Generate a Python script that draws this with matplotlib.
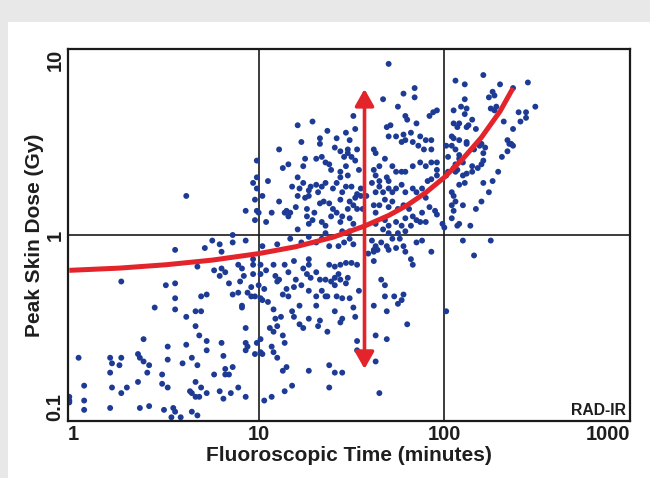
import matplotlib.pyplot as plt
import matplotlib.patches as mpatches
import numpy as np

plt.rcParams['font.family'] = ['Liberation Sans', 'DejaVu Sans']

# all values are log10 (time in minutes, dose in Gy)
# points with time < 10 min
pts_under_10 = [
    (0.61, 0.21), (0.97, 0.28), (0.93, 0.13),
    (0.86, 0.00), (0.75, -0.03), (0.79, -0.05), (0.86, -0.04), (0.93, -0.03), (0.55, -0.08), (0.71, -0.07), (0.80, -0.09),
    (0.67, -0.17), (0.76, -0.19), (0.80, -0.18), (0.82, -0.20), (0.79, -0.22), (0.89, -0.16), (0.91, -0.18), (0.97, -0.13),
    (0.26, -0.25), (0.50, -0.27), (0.55, -0.26), (0.55, -0.34), (0.55, -0.40), (0.44, -0.39), (0.61, -0.44), (0.66, -0.41),
    (0.69, -0.41), (0.69, -0.33), (0.72, -0.32),
    (0.84, -0.26), (0.90, -0.25), (0.92, -0.22), (0.97, -0.21), (0.89, -0.31), (0.86, -0.32), (0.94, -0.31), (0.96, -0.28),
    (0.96, -0.33), (0.91, -0.39), (0.91, -0.38),
    (0.66, -0.49), (0.68, -0.54), (0.72, -0.57), (0.72, -0.62), (0.80, -0.58), (0.81, -0.65), (0.93, -0.50), (0.93, -0.58),
    (0.94, -0.60), (0.93, -0.62), (0.98, -0.64),
    (0.51, -0.60), (0.38, -0.56), (0.61, -0.59), (0.51, -0.67), (0.64, -0.66), (0.67, -0.70), (0.59, -0.69), (0.76, -0.75),
    (0.82, -0.72), (0.82, -0.75), (0.84, -0.75), (0.86, -0.71), (0.89, -0.82), (0.93, -0.87),
    (0.03, -0.66), (0.20, -0.66), (0.21, -0.69), (0.25, -0.70), (0.26, -0.66), (0.35, -0.64), (0.36, -0.66), (0.38, -0.68),
    (0.41, -0.70), (0.40, -0.74), (0.20, -0.74), (0.35, -0.79), (0.29, -0.82), (0.26, -0.85), (0.21, -0.82), (0.06, -0.81),
    (0.48, -0.75), (0.48, -0.80), (0.51, -0.82), (0.66, -0.79), (0.69, -0.82), (0.63, -0.84), (0.64, -0.85), (0.66, -0.87),
    (0.68, -0.87), (0.72, -0.85), (0.79, -0.84), (0.81, -0.88), (0.85, -0.85),
    (0.06, -0.89), (0.06, -0.94), (0.20, -0.93), (0.36, -0.93), (0.41, -0.92), (0.49, -0.94), (0.54, -0.93), (0.55, -0.95),
    (0.64, -0.95), (0.67, -0.97), (0.53, -0.98), (0.58, -0.98),
    (-0.02, -0.87), (-0.02, -0.89), (-0.02, -0.90),
]

# 10-100 min, dose above 1 Gy
pts_mid_high = [
    (1.70, 0.92), (1.67, 0.73), (1.78, 0.76), (1.84, 0.79), (1.84, 0.74), (1.75, 0.69), (1.94, 0.66), (1.92, 0.64), (1.96, 0.67),
    (1.51, 0.64), (1.79, 0.64), (1.80, 0.62), (1.85, 0.60), (1.69, 0.58), (1.71, 0.59), (1.70, 0.53), (1.74, 0.53), (1.78, 0.54),
    (1.82, 0.55), (1.79, 0.51), (1.87, 0.53), (1.83, 0.50), (1.90, 0.51), (1.93, 0.51), (1.86, 0.48), (1.89, 0.46), (1.93, 0.46),
    (1.77, 0.50),
    (1.21, 0.59), (1.29, 0.61), (1.37, 0.56), (1.33, 0.52), (1.33, 0.49), (1.42, 0.52), (1.47, 0.55), (1.52, 0.57), (1.49, 0.51),
    (1.41, 0.47), (1.44, 0.45), (1.48, 0.46), (1.50, 0.42), (1.48, 0.44), (1.53, 0.46),
    (1.11, 0.46), (1.23, 0.50), (1.16, 0.38), (1.13, 0.36), (1.24, 0.37), (1.25, 0.41), (1.31, 0.41), (1.34, 0.42), (1.36, 0.39),
    (1.38, 0.38), (1.39, 0.35), (1.44, 0.34), (1.47, 0.37), (1.46, 0.42), (1.52, 0.40), (1.54, 0.35), (1.62, 0.46), (1.63, 0.44),
    (1.62, 0.35), (1.63, 0.32), (1.65, 0.37), (1.68, 0.41), (1.72, 0.37), (1.74, 0.34), (1.69, 0.31), (1.65, 0.29), (1.61, 0.28),
    (1.70, 0.29), (1.77, 0.34), (1.79, 0.34), (1.83, 0.37), (1.87, 0.39), (1.90, 0.37), (1.93, 0.39), (1.96, 0.39), (1.96, 0.35),
    (1.21, 0.31), (1.18, 0.26), (1.22, 0.25), (1.24, 0.28), (1.27, 0.24), (1.28, 0.26), (1.31, 0.27), (1.27, 0.21), (1.25, 0.20),
    (1.21, 0.21), (1.32, 0.23), (1.34, 0.26), (1.36, 0.28), (1.42, 0.28), (1.44, 0.31), (1.40, 0.25), (1.47, 0.26), (1.48, 0.32),
    (1.50, 0.26), (1.45, 0.23), (1.44, 0.19), (1.52, 0.20), (1.49, 0.18), (1.53, 0.22), (1.55, 0.25), (1.55, 0.21), (1.58, 0.21),
    (1.63, 0.23), (1.65, 0.26), (1.67, 0.23), (1.70, 0.25), (1.68, 0.19), (1.72, 0.23), (1.74, 0.25), (1.77, 0.27), (1.79, 0.23),
    (1.83, 0.25), (1.85, 0.23), (1.88, 0.25), (1.91, 0.29), (1.93, 0.30), (1.96, 0.32), (1.90, 0.20),
    (1.11, 0.18), (1.15, 0.13), (1.17, 0.12), (1.16, 0.10), (1.14, 0.12), (1.20, 0.15), (1.26, 0.14), (1.26, 0.10), (1.30, 0.12),
    (1.33, 0.17), (1.35, 0.18), (1.38, 0.17), (1.40, 0.14), (1.42, 0.12), (1.39, 0.10), (1.29, 0.08), (1.27, 0.06), (1.34, 0.07),
    (1.36, 0.05), (1.44, 0.07), (1.45, 0.10), (1.48, 0.14), (1.51, 0.16), (1.53, 0.14), (1.49, 0.09), (1.51, 0.06), (1.56, 0.14),
    (1.62, 0.16), (1.63, 0.12), (1.65, 0.16), (1.70, 0.15), (1.72, 0.18), (1.75, 0.14), (1.78, 0.16), (1.81, 0.14), (1.83, 0.10),
    (1.85, 0.08), (1.88, 0.12), (1.92, 0.15), (1.95, 0.13), (1.79, 0.09), (1.74, 0.07), (1.70, 0.05), (1.68, 0.08), (1.77, 0.05),
    (1.82, 0.05), (1.87, 0.07), (1.90, 0.07), (1.67, 0.03), (1.70, 0.01), (1.75, 0.01), (1.79, 0.02), (1.04, 0.07), (1.07, 0.12),
    (1.21, 0.03), (1.36, 0.01), (1.45, 0.02), (1.49, 0.02), (1.63, 0.06), (1.96, 0.11), (1.99, 0.06),
    (0.99, 0.40), (0.99, 0.31), (0.99, 0.25), (0.98, 0.19), (0.99, 0.13), (0.98, 0.08), (1.02, 0.21), (1.05, 0.29), (1.00, 0.12),
]

# 10-100 min, dose below 1 Gy
pts_mid_low = [
    (1.02, -0.06), (1.10, -0.05), (1.17, -0.02), (1.23, -0.04), (1.27, -0.01), (1.31, -0.04), (1.34, -0.02), (1.38, -0.06),
    (1.43, -0.06), (1.46, -0.04), (1.49, -0.02), (1.51, -0.05), (1.61, -0.03), (1.63, -0.06), (1.66, -0.04), (1.62, -0.09),
    (1.64, -0.08), (1.69, -0.06), (1.70, -0.08), (1.74, -0.07), (1.78, -0.06), (1.79, -0.09), (1.82, -0.13), (1.85, -0.04),
    (1.88, -0.03), (1.93, -0.09), (1.72, -0.02), (1.76, -0.02), (1.62, -0.08), (1.59, -0.10),
    (0.97, -0.16), (1.01, -0.16), (1.08, -0.16), (1.14, -0.16), (1.19, -0.14), (1.27, -0.13), (1.27, -0.16), (1.24, -0.18),
    (1.26, -0.21), (1.28, -0.23), (1.31, -0.20), (1.33, -0.24), (1.38, -0.16), (1.41, -0.17), (1.44, -0.16), (1.47, -0.15),
    (1.50, -0.15), (1.53, -0.16), (1.41, -0.23), (1.43, -0.21), (1.44, -0.24), (1.48, -0.23), (1.47, -0.26), (1.39, -0.25),
    (1.36, -0.24), (1.41, -0.27), (1.20, -0.24), (1.16, -0.20), (1.11, -0.24), (1.09, -0.22), (1.04, -0.19), (1.01, -0.21),
    (1.62, -0.14), (1.83, -0.16), (1.54, -0.30), (1.66, -0.24), (1.68, -0.27), (1.34, -0.30), (1.36, -0.33), (1.31, -0.33),
    (1.27, -0.30), (1.23, -0.27), (1.19, -0.28), (1.15, -0.29), (1.13, -0.32), (1.16, -0.33), (1.10, -0.25), (1.03, -0.29),
    (1.00, -0.27), (1.01, -0.34), (1.02, -0.35), (1.05, -0.36), (1.08, -0.40), (0.98, -0.33),
    (1.37, -0.33), (1.42, -0.33), (1.45, -0.34), (1.49, -0.34), (1.51, -0.39), (1.41, -0.41), (1.31, -0.38), (1.22, -0.38),
    (1.18, -0.41), (1.12, -0.44), (1.09, -0.45), (1.06, -0.50), (1.10, -0.49), (1.08, -0.52), (1.19, -0.44), (1.27, -0.45),
    (1.33, -0.46), (1.45, -0.45), (1.44, -0.47), (1.52, -0.44), (1.62, -0.38), (1.68, -0.33), (1.69, -0.41), (1.73, -0.33),
    (1.75, -0.37), (1.77, -0.35), (1.78, -0.32), (1.80, -0.48),
    (1.13, -0.54), (1.14, -0.58), (1.07, -0.60), (1.01, -0.56), (0.99, -0.58), (1.01, -0.63), (1.02, -0.64), (1.08, -0.63),
    (1.10, -0.66), (1.22, -0.48), (1.24, -0.50), (1.32, -0.49), (1.37, -0.52), (1.53, -0.57), (1.53, -0.62), (1.63, -0.54),
    (1.69, -0.56), (1.63, -0.68), (1.13, -0.73), (1.15, -0.71), (1.18, -0.81), (1.14, -0.84), (1.03, -0.89), (1.07, -0.87),
    (1.27, -0.73), (1.38, -0.70), (1.41, -0.74), (1.45, -0.74), (1.38, -0.82), (1.65, -0.85),
]

# over 100 min
pts_over_100 = [
    (2.21, 0.86), (2.06, 0.83), (2.11, 0.81), (2.30, 0.81), (2.45, 0.82), (2.37, 0.79), (2.26, 0.77), (2.27, 0.75), (2.24, 0.74),
    (2.28, 0.69), (2.25, 0.68), (2.27, 0.67), (2.11, 0.73), (2.09, 0.69), (2.12, 0.68), (2.05, 0.67), (2.11, 0.65), (2.49, 0.69),
    (2.40, 0.66), (2.44, 0.66), (2.41, 0.61), (2.44, 0.63), (2.32, 0.61), (2.37, 0.57),
    (2.05, 0.60), (2.08, 0.60), (2.15, 0.62), (2.13, 0.59), (2.17, 0.57), (2.12, 0.58), (2.07, 0.58), (2.04, 0.53), (2.05, 0.52),
    (2.04, 0.48), (2.08, 0.51), (2.12, 0.50), (2.12, 0.49), (2.01, 0.48), (2.06, 0.46), (2.02, 0.42), (2.19, 0.48), (2.20, 0.49),
    (2.22, 0.47), (2.21, 0.44), (2.16, 0.46), (2.34, 0.51), (2.35, 0.49), (2.36, 0.49), (2.37, 0.48), (2.34, 0.45), (2.31, 0.42),
    (2.29, 0.34),
    (2.08, 0.43), (2.08, 0.41), (2.10, 0.39), (2.06, 0.38), (2.05, 0.36), (2.15, 0.37), (2.18, 0.36), (2.20, 0.38), (2.21, 0.40),
    (2.15, 0.34), (2.12, 0.33), (2.10, 0.32), (2.06, 0.34), (2.02, 0.34), (2.07, 0.35), (2.01, 0.32), (2.08, 0.27), (2.11, 0.28),
    (2.21, 0.28), (2.26, 0.29), (2.24, 0.23), (2.04, 0.23), (2.05, 0.21), (2.06, 0.18), (2.04, 0.16), (2.10, 0.16), (2.20, 0.18),
    (2.17, 0.14), (2.05, 0.13), (2.04, 0.09), (2.08, 0.06), (2.07, 0.05), (2.14, 0.05), (2.00, 0.04),
    (2.10, -0.03), (2.25, -0.03), (2.16, -0.11), (2.01, -0.41),
]

# fitted trend line (log10 time, log10 dose)
trend_log_time = [-0.02, 0.25, 0.50, 0.75, 1.00, 1.20, 1.40, 1.57, 1.70, 1.80, 1.90, 2.00, 2.10, 2.20, 2.30, 2.37]
trend_log_dose = [-0.19, -0.178, -0.16, -0.135, -0.10, -0.063, -0.012, 0.048, 0.105, 0.16, 0.228, 0.31, 0.41, 0.525,
                  0.665, 0.79]

# spread arrow at ~37 min
arrow_log_time = 1.57
arrow_log_dose = (-0.72, 0.785)

x_ticks = [1, 10, 100, 1000]
y_ticks = [0.1, 1, 10]

blue = '#1d3b94'
red = '#e3242b'
text_col = '#1e1e1e'

pts = np.array(pts_under_10 + pts_mid_high + pts_mid_low + pts_over_100)
time = 10 ** pts[:, 0]
dose = 10 ** pts[:, 1]

fig = plt.figure(figsize=(6.5, 4.78), dpi=100, facecolor='#e8e8e8')
# white panel behind the chart (gray strip on top and left)
fig.patches.append(mpatches.Rectangle((8 / 650, 0), 1, 1 - 22 / 478, transform=fig.transFigure,
                                      facecolor='white', edgecolor='none', zorder=-10))
ax = fig.add_axes([68 / 650, 57 / 478, 562 / 650, 372 / 478])
ax.set_facecolor('white')

ax.set_xscale('log')
ax.set_yscale('log')
ax.set_xlim(10 ** -0.027, 1000)
ax.set_ylim(0.1, 10)

for v in [10, 100]:
    ax.axvline(v, color='#1a1a1a', lw=1.2, zorder=1)
ax.axhline(1, color='#1a1a1a', lw=1.2, zorder=1)

ax.scatter(time, dose, s=18, color=blue, edgecolors='none', zorder=2)

ax.plot(10 ** np.array(trend_log_time), 10 ** np.array(trend_log_dose), color=red, lw=3.6,
        solid_capstyle='butt', solid_joinstyle='round', zorder=3)

ax.annotate('', xy=(10 ** arrow_log_time, 10 ** arrow_log_dose[1]),
            xytext=(10 ** arrow_log_time, 10 ** arrow_log_dose[0]),
            arrowprops=dict(arrowstyle='<|-|>,head_length=0.85,head_width=0.48', color=red, lw=2.6,
                            mutation_scale=12, shrinkA=0, shrinkB=0), zorder=4)

ax.xaxis.set_major_locator(plt.FixedLocator(x_ticks))
ax.yaxis.set_major_locator(plt.FixedLocator(y_ticks))
ax.xaxis.set_minor_locator(plt.NullLocator())
ax.yaxis.set_minor_locator(plt.NullLocator())
ax.set_xticklabels(['1', '10', '100', '1000'], fontsize=14.5, fontweight='bold', color=text_col)
ax.set_yticklabels(['0.1', '1', '10'], fontsize=14.5, fontweight='bold', color=text_col, rotation=90)
ax.tick_params(axis='both', length=0)
ax.tick_params(axis='x', pad=3)
ax.tick_params(axis='y', pad=2.5)
xl = ax.get_xticklabels()
xl[-1].set_ha('right')
yl = ax.get_yticklabels()
yl[0].set_va('bottom')
yl[1].set_va('center')
yl[2].set_va('top')

for s in ax.spines.values():
    s.set_linewidth(1.6)
    s.set_color('#1a1a1a')

ax.set_xlabel('Fluoroscopic Time (minutes)', fontsize=15, fontweight='bold', color=text_col)
ax.set_ylabel('Peak Skin Dose (Gy)', fontsize=15, fontweight='bold', color=text_col)
ax.xaxis.set_label_coords(0.5, -0.066)
ax.yaxis.set_label_coords(-0.043, 0.5)

ax.text(0.993, 0.008, 'RAD-IR', transform=ax.transAxes, ha='right', va='bottom',
        fontsize=11.3, fontweight='bold', color=text_col)

fig.savefig('out.png', dpi=100, facecolor=fig.get_facecolor())
